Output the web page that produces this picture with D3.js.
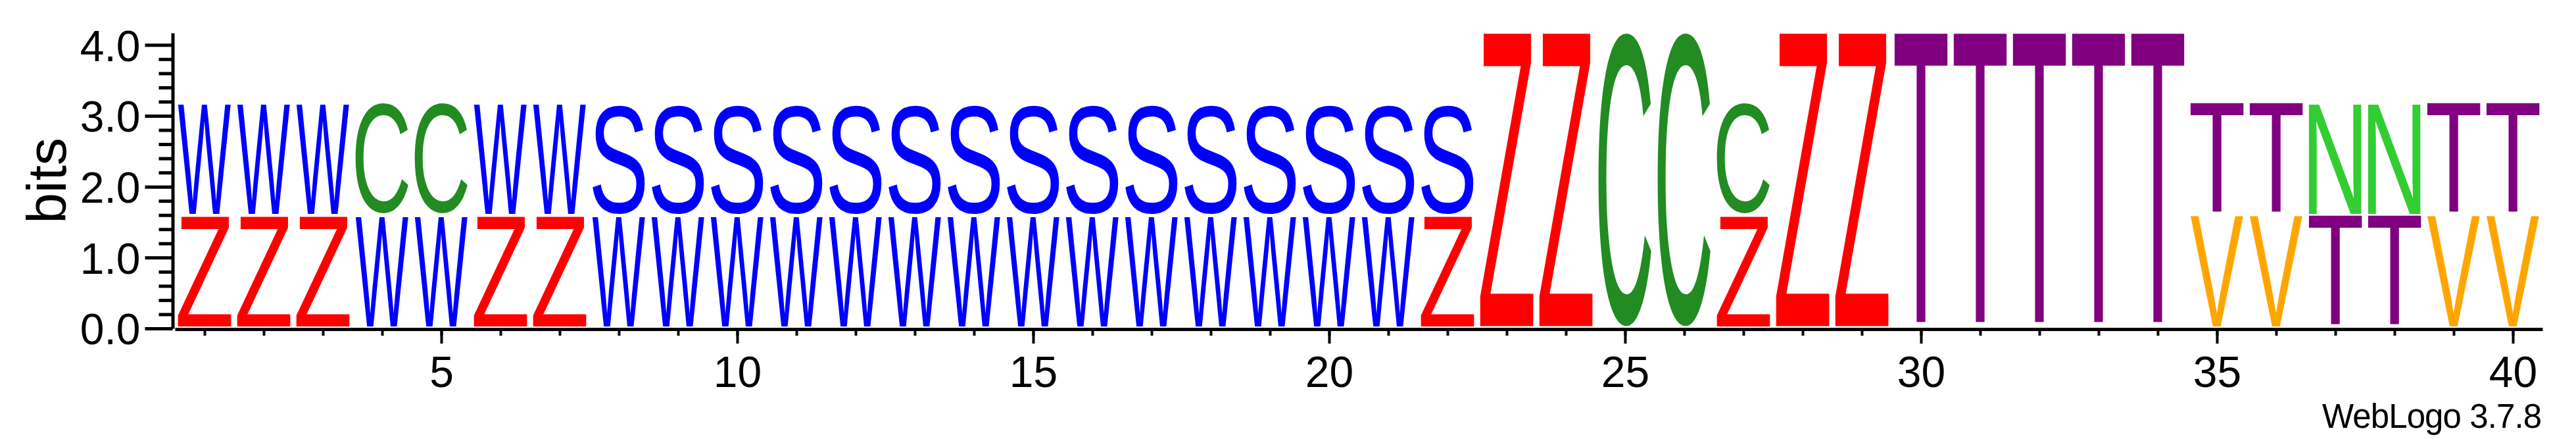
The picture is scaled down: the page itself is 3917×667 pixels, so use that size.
<!DOCTYPE html>
<html><head><meta charset="utf-8">
<script src="https://cdn.jsdelivr.net/npm/d3@7"></script>
<style>html,body{margin:0;padding:0;background:#fff;} svg{display:block;}</style>
</head><body>
<svg id="chart" width="3917" height="667"></svg>
<script>
// ---- data ----
const positions = [1,2,3,4,5,6,7,8,9,10,11,12,13,14,15,16,17,18,19,20,21,22,23,24,25,26,27,28,29,30,31,32,33,34,35,36,37,38,39,40];
const bottomLetters = ["Z","Z","Z","W","W","Z","Z","W","W","W","W","W","W","W","W","W","W","W","W","W","W","Z","Z","Z","C","C","Z","Z","Z","T","T","T","T","T","V","V","T","T","V","V"];
const bottomBits = [1.585,1.585,1.585,1.585,1.585,1.585,1.585,1.585,1.585,1.585,1.585,1.585,1.585,1.585,1.585,1.585,1.585,1.585,1.585,1.585,1.585,1.585,4.17,4.17,4.17,4.17,1.585,4.17,4.17,4.17,4.17,4.17,4.17,4.17,1.585,1.585,1.585,1.585,1.585,1.585];
const topLetters = ["W","W","W","C","C","W","W","S","S","S","S","S","S","S","S","S","S","S","S","S","S","S","","","","","C","","","","","","","","T","T","N","N","T","T"];
const topBits = [1.585,1.585,1.585,1.585,1.585,1.585,1.585,1.585,1.585,1.585,1.585,1.585,1.585,1.585,1.585,1.585,1.585,1.585,1.585,1.585,1.585,1.585,0,0,0,0,1.585,0,0,0,0,0,0,0,1.585,1.585,1.585,1.585,1.585,1.585];
const yMajorTicks = [0,1,2,3,4];
const yTickLabels = ["0.0","1.0","2.0","3.0","4.0"];
const yMinorTicks = [0.2,0.4,0.6,0.8,1.2,1.4,1.6,1.8,2.2,2.4,2.6,2.8,3.2,3.4,3.6,3.8];
const xMajorTicks = [5,10,15,20,25,30,35,40];
const xTickLabels = ["5","10","15","20","25","30","35","40"];
const yAxisTitle = "bits";
const footnote = "WebLogo 3.7.8";
const letterColors = {W:"#0000ff", S:"#0000ff", Z:"#ff0000", C:"#228b22", T:"#800080", N:"#32cd32", V:"#ffa500"};
const yMax = 4.17;

function draw(){
  const svg = d3.select("#chart");
  svg.append("rect").attr("width",3917).attr("height",667).attr("fill","#fff");
  const FONT = '"Liberation Sans", Arial, Helvetica, sans-serif';

  const x = d3.scaleLinear().domain([0.5, 40.5]).range([266, 3866]);
  const y = d3.scaleLinear().domain([0, yMax]).range([499, 50]);

  // ink metrics
  const cvs = document.createElement("canvas");
  const ctx = cvs.getContext("2d");
  ctx.font = '100px ' + FONT;
  const metrics = {};
  function m(ch){
    if(!metrics[ch]){
      const t = ctx.measureText(ch);
      metrics[ch] = {l:t.actualBoundingBoxLeft, r:t.actualBoundingBoxRight, a:t.actualBoundingBoxAscent, d:t.actualBoundingBoxDescent};
    }
    return metrics[ch];
  }

  const stacks = positions.map((p,i)=>{
    const arr = [];
    arr.push({ch:bottomLetters[i], y0:0, y1:bottomBits[i], p});
    if(topLetters[i] && topBits[i] > 0) arr.push({ch:topLetters[i], y0:bottomBits[i], y1:bottomBits[i]+topBits[i], p});
    return arr;
  }).flat();

  const halfW = 40.5, gapBottom = 3.5;
  svg.append("g").selectAll("text").data(stacks).join("text")
    .attr("font-family", FONT)
    .attr("font-size", 100)
    .attr("fill", d=>letterColors[d.ch])
    .attr("transform", d=>{
      const mm = m(d.ch);
      const bx0 = x(d.p) - halfW, bw = 2*halfW;
      const byTop = y(d.y1), byBot = y(d.y0) - gapBottom;
      const sx = bw / (mm.l + mm.r), sy = (byBot - byTop) / (mm.a + mm.d);
      return `translate(${bx0},${byTop}) scale(${sx},${sy}) translate(${mm.l},${mm.a})`;
    })
    .text(d=>d.ch);

  // Y axis
  const yAxisMajor = d3.axisLeft(y).tickValues(yMajorTicks).tickSize(42).tickSizeOuter(0).tickPadding(7)
    .tickFormat((d,i)=>yTickLabels[i]);
  const gy = svg.append("g").attr("transform","translate(262.5,0)").call(yAxisMajor);
  gy.select(".domain").attr("stroke","#000").attr("stroke-width",5);
  gy.selectAll(".tick line").attr("stroke","#000").attr("stroke-width",5);
  gy.selectAll(".tick text").attr("font-family",FONT).attr("font-size",66).attr("fill","#000").attr("dy","0.36em");
  const yAxisMinor = d3.axisLeft(y).tickValues(yMinorTicks).tickSize(21).tickSizeOuter(0).tickFormat("");
  const gy2 = svg.append("g").attr("transform","translate(262.5,0)").call(yAxisMinor);
  gy2.select(".domain").remove();
  gy2.selectAll(".tick line").attr("stroke","#000").attr("stroke-width",5);

  // X axis
  const xAxisMinor = d3.axisBottom(x).tickValues(positions).tickSize(10).tickSizeOuter(0).tickFormat("");
  const gx = svg.append("g").attr("transform","translate(0,500)").call(xAxisMinor);
  gx.select(".domain").attr("stroke","#000").attr("stroke-width",5);
  gx.selectAll(".tick line").attr("stroke","#000").attr("stroke-width",4);
  const xAxisMajor = d3.axisBottom(x).tickValues(xMajorTicks).tickSize(22).tickSizeOuter(0)
    .tickFormat((d,i)=>xTickLabels[i]);
  const gx2 = svg.append("g").attr("transform","translate(0,500)").call(xAxisMajor);
  gx2.select(".domain").remove();
  gx2.selectAll(".tick line").attr("stroke","#000").attr("stroke-width",4);
  gx2.selectAll(".tick text").attr("font-family",FONT).attr("font-size",66).attr("fill","#000")
    .attr("y",88).attr("dy",0);

  // axis title
  svg.append("text").attr("transform","translate(100,274.5) rotate(-90)")
    .attr("text-anchor","middle").attr("font-family",FONT).attr("font-size",84).attr("fill","#000")
    .text(yAxisTitle);

  // footnote
  svg.append("text").attr("x",3865).attr("y",650).attr("text-anchor","end")
    .attr("font-family",FONT).attr("font-size",51).attr("fill","#000")
    .attr("textLength",334).attr("lengthAdjust","spacing")
    .text(footnote);
}

if (document.fonts && document.fonts.load) {
  document.fonts.load('100px "Liberation Sans"').then(draw, draw);
} else { draw(); }
</script>
</body></html>
